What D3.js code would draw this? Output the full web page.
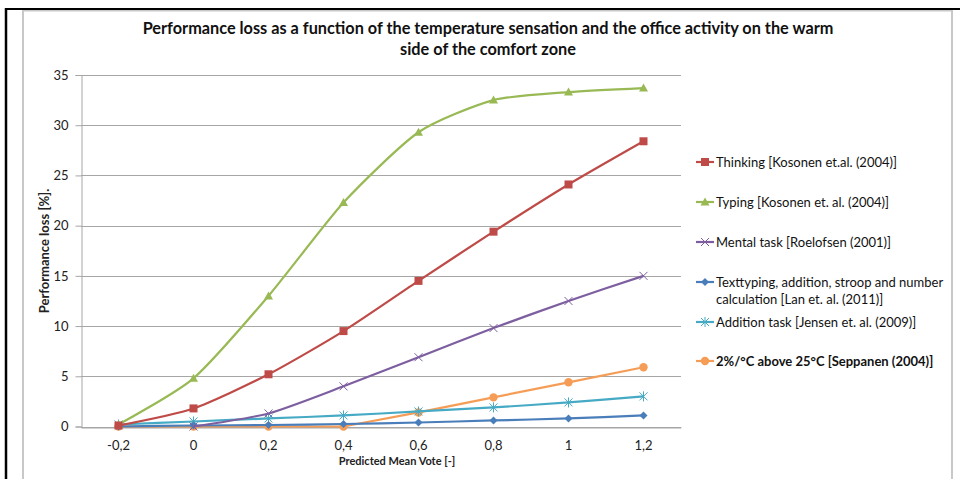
<!DOCTYPE html>
<html><head><meta charset="utf-8">
<script src="https://cdn.jsdelivr.net/npm/d3@7"></script>
<style>body{margin:0;background:#fff}svg{display:block}</style>
</head><body>
<svg id="c" width="960" height="479"></svg>
<script>
const categories = ["-0,2","0","0,2","0,4","0,6","0,8","1","1,2"];
const yTicks = [0,5,10,15,20,25,30,35];
const thinking = [0.1,1.8,5.2,9.5,14.5,19.4,24.1,28.4];
const typing = [0.2,4.8,13.0,22.3,29.3,32.5,33.3,33.7];
const mental = [null,0.0,1.3,4.0,6.9,9.8,12.5,15.0];
const lan = [0.0,0.1,0.15,0.25,0.4,0.6,0.8,1.1];
const jensen = [0.2,0.5,0.8,1.1,1.5,1.9,2.4,3.0];
const seppanen = [0,0,0,0,1.4,2.9,4.4,5.9];
const seriesNames = ["Thinking [Kosonen et.al. (2004)]","Typing [Kosonen et. al. (2004)]","Mental task [Roelofsen (2001)]","Texttyping, addition, stroop and number|calculation [Lan et. al. (2011)]","Addition task [Jensen et. al. (2009)]","2%/°C above 25°C [Seppanen (2004)]"];
const title = ["Performance loss as a function of the temperature sensation and the office activity on the warm","side of the comfort zone"];

const series = [
 {name:seriesNames[0], values:thinking, color:"#be4b48", marker:"square", smooth:true},
 {name:seriesNames[1], values:typing, color:"#98b954", marker:"triangle", smooth:true},
 {name:seriesNames[2], values:mental, color:"#7d5fa0", marker:"x", smooth:true},
 {name:seriesNames[3], values:lan, color:"#4a7ebb", marker:"diamond", smooth:true},
 {name:seriesNames[4], values:jensen, color:"#46aac5", marker:"star", smooth:true},
 {name:seriesNames[5], values:seppanen, color:"#f59d56", marker:"circle", smooth:false, bold:true}
];

const svg = d3.select("#c");
const font = "Lato, 'Open Sans', sans-serif";

// frames
svg.append("rect").attr("x",23).attr("y",10.5).attr("width",929).attr("height",480).attr("fill","#fff").attr("stroke","#c8c8c8").attr("stroke-width",2);
svg.append("line").attr("x1",6).attr("x2",960).attr("y1",9).attr("y2",9).attr("stroke","#000").attr("stroke-width",2);
svg.append("line").attr("x1",6).attr("x2",6).attr("y1",8).attr("y2",479).attr("stroke","#000").attr("stroke-width",2.5);

const L=81, R=681, T=75, B=426.5;
const x = d3.scaleBand().domain(categories).range([L,R]);
const y = d3.scaleLinear().domain([0,35]).range([B,T]);
const cx = c => x(c)+x.bandwidth()/2;

// grid
svg.append("g").selectAll("line").data(yTicks).join("line")
  .attr("x1",L).attr("x2",R).attr("y1",d=>Math.round(y(d))+0.5).attr("y2",d=>Math.round(y(d))+0.5)
  .attr("stroke","#a6a6a6").attr("stroke-width",1);

const yAxis = svg.append("g").attr("transform",`translate(${L+0.5},0)`)
  .call(d3.axisLeft(y).tickValues(yTicks).tickSize(6).tickPadding(7).tickFormat(d=>d));
yAxis.select(".domain").attr("stroke","#a6a6a6");
yAxis.selectAll(".tick line").attr("stroke","#a6a6a6");
yAxis.selectAll("text").attr("font-family",font).attr("font-size",13).attr("fill","#222");

const xAxis = svg.append("g").attr("transform",`translate(0,${Math.round(B)+0.5})`)
  .call(d3.axisBottom(x).tickSize(0).tickPadding(13));
xAxis.select(".domain").attr("stroke","#a6a6a6");
xAxis.selectAll("text").attr("font-family",font).attr("font-size",13).attr("fill","#222");

// titles
svg.append("g").selectAll("text").data(title).join("text")
  .attr("x",488).attr("y",(d,i)=>34+i*21).attr("text-anchor","middle")
  .attr("font-family",font).attr("font-weight","bold").attr("font-size",16.3).attr("fill","#111").text(d=>d);
svg.append("text").attr("transform","translate(49,251) rotate(-90)").attr("text-anchor","middle")
  .attr("font-family",font).attr("font-weight","bold").attr("font-size",13).attr("fill","#222").text("Performance loss [%].");
svg.append("text").attr("x",397).attr("y",465).attr("text-anchor","middle")
  .attr("font-family",font).attr("font-weight","bold").attr("font-size",11).attr("fill","#222").text("Predicted Mean Vote [-]");

function drawMarker(g, type, color, px, py, s){
  if(type==="square") g.append("rect").attr("x",px-4).attr("y",py-4).attr("width",8).attr("height",8).attr("fill",color);
  else if(type==="triangle") g.append("path").attr("d",`M${px},${py-4.5}L${px+4.5},${py+3.5}L${px-4.5},${py+3.5}Z`).attr("fill",color);
  else if(type==="diamond") g.append("path").attr("d",`M${px},${py-4}L${px+4},${py}L${px},${py+4}L${px-4},${py}Z`).attr("fill",color);
  else if(type==="circle") g.append("circle").attr("cx",px).attr("cy",py).attr("r",4.2).attr("fill",color);
  else if(type==="x") g.append("path").attr("d",`M${px-4},${py-4}L${px+4},${py+4}M${px-4},${py+4}L${px+4},${py-4}`).attr("stroke",color).attr("stroke-width",1);
  else if(type==="star") g.append("path").attr("d",`M${px-4},${py-4}L${px+4},${py+4}M${px-4},${py+4}L${px+4},${py-4}M${px},${py-5}L${px},${py+5}`).attr("stroke",color).attr("stroke-width",1);
}

// draw in reverse so Thinking is on top
const plot = svg.append("g");
series.slice().reverse().forEach(s=>{
  const pts = categories.map((c,i)=>({c, v:s.values[i]})).filter(p=>p.v!==null);
  const line = d3.line().x(p=>cx(p.c)).y(p=>y(p.v)).curve(s.smooth? d3.curveCardinal.tension(0.33) : d3.curveLinear);
  plot.append("path").datum(pts).attr("d",line).attr("fill","none").attr("stroke",s.color).attr("stroke-width",2.2);
  pts.forEach(p=>drawMarker(plot, s.marker, s.color, cx(p.c), y(p.v)));
});

// legend
const legY = [162,202,242,282,322,361];
const leg = svg.append("g");
series.forEach((s,i)=>{
  const yy = legY[i];
  leg.append("line").attr("x1",696).attr("x2",714).attr("y1",yy).attr("y2",yy).attr("stroke",s.color).attr("stroke-width",2.2);
  drawMarker(leg, s.marker, s.color, 705, yy);
  const lines = s.name.split("|");
  lines.forEach((t,j)=>{
    leg.append("text").attr("x",716).attr("y",yy+4.5+j*17)
      .attr("font-family",font).attr("font-size",13).attr("fill","#111")
      .attr("font-weight",s.bold?"bold":"normal").text(t);
  });
});
</script>
</body></html>
